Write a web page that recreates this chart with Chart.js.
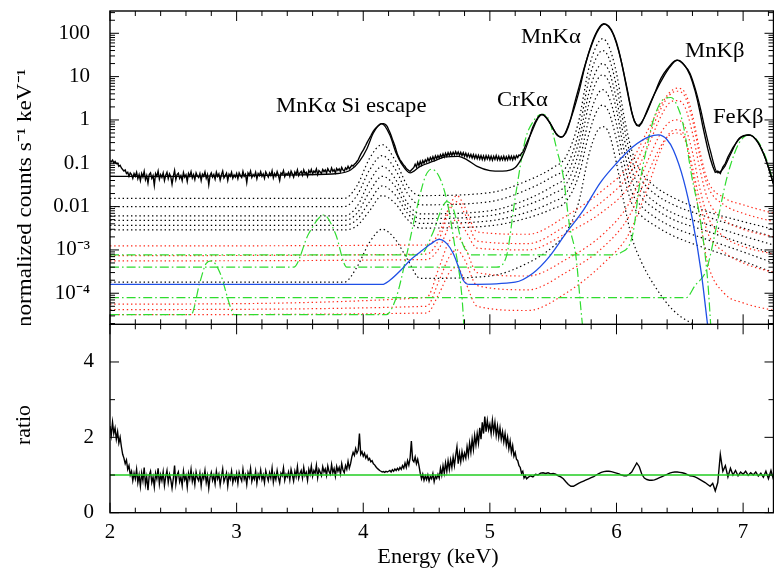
<!DOCTYPE html>
<html><head><meta charset="utf-8">
<script src="https://cdn.jsdelivr.net/npm/chart.js@4"></script>
<style>
html,body{margin:0;padding:0;background:#fff;}
#wrap{position:relative;width:774px;height:568px;overflow:hidden;}
#top{position:absolute;left:0;top:0;}
#bot{position:absolute;left:0;top:324px;}
</style></head><body>
<div id="wrap">
<canvas id="top" width="774" height="325"></canvas>
<canvas id="bot" width="774" height="244"></canvas>
</div>
<script>
// ---------------- DATA ----------------
// observed spectrum: 2.00-5.29 keV in 0.01 keV bins, then 5.30-7.24 keV in 0.02 keV bins
const fineStart = 2.00, fineStep = 0.01, coarseStart = 5.30, coarseStep = 0.02;
const countsFine = [
.115,.108,.118,.102,.11,.098,.1,.085,.09,.078,
.072,.066,.07,.058,.062,.05,.06,.055,.045,.058,
.05,.062,.044,.055,.04,.058,.048,.065,.042,.052,
.035,.055,.06,.045,.052,.031,.058,.05,.066,.043,
.055,.047,.06,.04,.053,.062,.044,.057,.049,.033,
.05,.068,.042,.055,.059,.045,.052,.04,.061,.048,
.054,.038,.058,.05,.064,.046,.055,.042,.06,.051,
.047,.058,.04,.056,.05,.063,.045,.055,.032,.052,
.06,.048,.055,.043,.062,.05,.057,.041,.054,.066,
.046,.052,.059,.04,.056,.05,.062,.045,.054,.048,
.058,.044,.06,.052,.047,.065,.05,.056,.036,.06,
.053,.066,.047,.055,.05,.062,.044,.058,.052,.064,
.05,.057,.045,.063,.055,.048,.06,.052,.067,.046,
.058,.05,.064,.053,.04,.06,.056,.068,.049,.058,
.054,.062,.05,.066,.057,.048,.063,.055,.07,.052,
.06,.065,.053,.07,.058,.062,.05,.068,.06,.072,
.057,.066,.061,.074,.055,.068,.063,.058,.072,.064,
.07,.06,.075,.066,.062,.078,.065,.071,.06,.076,
.068,.074,.064,.08,.07,.066,.078,.072,.085,.074,
.082,.09,.086,.095,.1,.11,.12,.14,.16,.18,
.2,.23,.26,.3,.34,.38,.43,.49,.55,.6,
.65,.7,.74,.78,.81,.82,.82,.8,.76,.7,
.6,.52,.44,.36,.3,.25,.2,.16,.14,.12,
.11,.1,.09,.085,.075,.072,.068,.065,.07,.075,
.08,.095,.082,.105,.088,.11,.092,.115,.1,.12,
.108,.13,.112,.135,.118,.142,.12,.148,.128,.15,
.132,.158,.138,.165,.14,.17,.145,.175,.15,.178,
.152,.18,.155,.185,.158,.182,.152,.178,.15,.175,
.145,.17,.14,.165,.138,.16,.132,.158,.13,.155,
.128,.152,.125,.15,.122,.148,.12,.15,.125,.148,
.12,.146,.118,.145,.122,.15,.12,.144,.118,.142,
.12,.145,.118,.142,.12,.148,.122,.145,.12,.146,
.125,.15,.135,.155,.15,.17,.18,.21,.25,.29];
const countsCoarse = [
.34,.45,.62,.85,1.1,1.3,1.33,1.2,1.0,.8,
.62,.5,.43,.4,.42,.5,.7,1.1,1.9,3.2,
5.2,8.5,14,22,34,50,72,98,125,150,
165,160,145,120,90,62,38,21,11,5.5,
2.8,1.5,.95,.75,.72,.85,1.15,1.6,2.2,3.0,
4.0,5.2,6.8,8.6,11,13.5,16.5,19.5,22.5,24,
23.5,21,18,14.5,11,7.5,4.8,2.8,1.5,.75,
.4,.22,.13,.085,.062,.066,.058,.082,.1,.14,
.18,.23,.28,.34,.39,.42,.44,.45,.44,.41,
.36,.3,.23,.17,.12,.08,.052,.033];
const ratioFine = [
2.3,2.05,2.4,2.1,2.25,1.95,2.15,1.85,2.0,1.75,
1.55,1.45,1.3,1.4,1.15,1.25,1.0,1.1,0.85,1.05,
0.9,1.15,0.8,1.0,0.7,1.05,0.85,1.2,0.75,0.95,
0.6,1.0,1.1,0.8,0.95,0.68,1.05,0.9,1.18,0.76,
1.0,0.85,1.08,0.72,0.96,1.12,0.8,1.02,0.88,0.65,
0.9,1.25,0.76,1.0,1.08,0.82,0.95,0.72,1.1,0.87,
0.98,0.68,1.05,0.9,1.15,0.83,1.0,0.75,1.08,0.92,
0.85,1.05,0.72,1.0,0.9,1.12,0.8,0.98,0.65,0.94,
1.07,0.86,0.99,0.77,1.1,0.9,1.02,0.74,0.96,1.16,
0.82,0.93,1.05,0.71,1.0,0.89,1.1,0.8,0.97,0.86,
1.04,0.78,1.07,0.93,0.84,1.15,0.89,1.0,0.75,1.06,
0.94,1.17,0.83,0.98,0.89,1.1,0.78,1.02,0.92,1.13,
0.88,1.0,0.8,1.11,0.97,0.85,1.06,0.92,1.18,0.81,
1.02,0.88,1.12,0.93,0.79,1.05,0.98,1.19,0.86,1.02,
0.95,1.08,0.87,1.15,1.0,0.84,1.1,0.96,1.22,0.91,
1.04,1.12,0.92,1.2,0.99,1.07,0.86,1.15,1.02,1.24,
0.97,1.12,1.04,1.26,0.93,1.15,1.07,0.98,1.22,1.08,
1.16,0.99,1.24,1.09,1.02,1.28,1.06,1.17,0.97,1.23,
1.1,1.2,1.03,1.3,1.13,1.06,1.25,1.15,1.36,1.18,
1.3,1.48,1.6,1.52,1.7,1.58,1.66,2.1,1.55,1.62,
1.5,1.58,1.45,1.52,1.4,1.44,1.35,1.38,1.3,1.27,
1.22,1.18,1.15,1.12,1.1,1.08,1.09,1.07,1.1,1.08,
1.1,1.12,1.08,1.14,1.1,1.16,1.12,1.18,1.13,1.2,
1.15,1.25,1.18,1.32,1.2,1.38,1.26,1.45,1.9,1.4,
1.35,1.48,1.3,1.42,1.25,1.05,0.9,1.02,0.86,0.98,
0.88,1.0,0.84,0.96,0.9,1.04,0.82,0.97,0.91,1.02,
0.92,1.18,1.0,1.25,1.05,1.32,1.1,1.38,1.15,1.4,
1.2,1.48,1.25,1.52,1.75,1.3,1.58,1.35,1.62,1.42,
1.58,1.45,1.75,1.52,1.85,1.6,1.95,1.68,2.05,1.8,
2.1,1.85,2.25,1.95,2.4,2.1,2.55,2.15,2.45,2.2,
2.35,2.1,2.45,2.15,2.4,2.05,2.3,2.0,2.25,1.95,
2.15,1.88,2.1,1.8,2.0,1.7,1.9,1.6,1.78,1.5,
1.6,1.42,1.38,1.25,1.2,1.05,1.1,0.92,0.98,0.9];
const ratioCoarse = [
.93,.98,.95,1.02,1.0,1.05,1.06,1.04,1.06,1.03,
1.04,1.02,.98,.95,.9,.82,.75,.7,.7,.74,
.78,.81,.84,.87,.9,.93,.96,1.0,1.04,1.07,
1.09,1.1,1.1,1.09,1.07,1.05,1.03,1.0,.98,.98,
1.02,1.08,1.2,1.32,1.22,1.02,.92,.88,.86,.86,
.87,.9,.93,.96,.99,1.02,1.05,1.07,1.08,1.08,
1.07,1.06,1.04,1.01,.98,.97,.95,.92,.88,.84,
.8,.75,.7,.78,.58,.8,1.55,1.1,1.25,.95,
1.18,1.0,1.12,.98,1.08,1.02,1.1,.99,1.06,1.0,
1.08,.97,1.05,.94,1.1,.9,1.12,.88];
const unityRatio = [1, 1];

// total model (solid black)
const modelE = [2.0,2.5,3.0,3.5,3.8,3.9,3.97,4.03,4.08,4.145,4.21,4.26,4.3,4.37,4.45,4.55,4.65,4.75,4.82,4.9,5.0,5.1,5.2,5.25,5.3,5.34,5.41,5.48,5.53,5.57,5.63,5.7,5.76,5.83,5.895,5.97,6.03,6.08,6.13,6.17,6.23,6.29,6.35,6.4,6.475,6.53,6.58,6.62,6.66,6.7,6.74,6.8,6.85,6.9,6.97,7.05,7.1,7.16,7.2,7.24];
const modelC = [0.05,0.05,0.051,0.054,0.058,0.07,0.11,0.22,0.5,0.82,0.45,0.17,0.1,0.06,0.085,0.11,0.14,0.145,0.12,0.085,0.068,0.066,0.08,0.13,0.3,0.7,1.35,0.8,0.45,0.4,0.9,4.1,22,90,165,100,28,6,1.2,0.75,1.3,3.4,9,15,24,19,12,5.5,2.0,0.6,0.2,0.06,0.08,0.16,0.38,0.45,0.35,0.17,0.08,0.033];

// MnKa components (black dotted)
const mnKaE = [2.0,3.85,3.95,4.05,4.15,4.25,4.35,4.45,5.0,5.3,5.5,5.6,5.7,5.78,5.84,5.89,5.94,6.0,6.06,6.12,6.2,6.3,6.45,6.7,7.0,7.24];
const mnKa1 = [.0155,.0155,.03,.13,.27,.12,.03,.018,.021,.04,.08,.14,.9,15,50,75,50,12,1.2,.2,.06,.03,.016,.008,.0045,.003];
const mnKa2 = [.01,.01,.018,.07,.15,.075,.02,.011,.013,.025,.05,.08,.5,8,27,40,27,6,.7,.12,.04,.02,.011,.006,.0032,.002];
const mnKa3 = [.0061,.0061,.01,.038,.085,.045,.012,.0068,.008,.015,.03,.05,.3,4,13.5,20,13.5,3,.38,.07,.025,.013,.007,.004,.0021,.0013];
const mnKa4 = [.0048,.0048,.007,.022,.05,.03,.009,.0053,.0062,.011,.02,.032,.17,2.2,7.5,11,7.5,1.7,.2,.04,.016,.009,.005,.0028,.0014,8e-4];
const mnKa5 = [.0037,.0037,.005,.013,.03,.019,.007,.0041,.0047,.0075,.013,.02,.09,1,3.4,5,3.4,.8,.1,.022,.01,.0058,.0033,.0018,9e-4,5e-4];
const mnKa6 = [.0029,.0029,.0036,.008,.018,.012,.005,.0032,.0036,.0055,.009,.013,.05,.45,1.5,2.2,1.5,.35,.05,.012,.006,.0037,.0021,.0011,5.5e-4,3e-4];
const mnKa7 = [1.8e-4,1.8e-4,4e-4,1.5e-3,3e-3,1.8e-3,6e-4,2.2e-4,2.5e-4,5e-4,1.2e-3,2.5e-3,.012,.15,.5,.7,.5,.1,.012,2e-3,5e-4,1.5e-4,4e-5,1.5e-5,1e-5,1e-5];

// MnKb components (red dotted)
const mnKbE = [2.0,4.5,4.6,4.68,4.74,4.8,4.9,5.3,5.6,5.9,6.1,6.25,6.35,6.42,6.48,6.54,6.6,6.66,6.72,6.85,7.0,7.24];
const mnKb1 = [1.24e-3,1.3e-3,2.5e-3,.01,.018,.01,2.6e-3,2.3e-3,6e-3,.025,.09,.6,2.2,4.3,5.4,4.3,1.3,.18,.04,.016,.011,.007];
const mnKb2 = [7.4e-4,8e-4,1.8e-3,.008,.013,.007,1.6e-3,1.4e-3,3.6e-3,.014,.055,.4,1.8,3.8,4.6,3.5,1,.14,.03,.011,.007,.0045];
const mnKb3 = [5.6e-4,6e-4,1.1e-3,3.5e-3,5e-3,3e-3,1.1e-3,1e-3,2.4e-3,8e-3,.03,.25,1.2,2.5,2.8,2,.5,.07,.015,5e-3,3e-3,2e-3];
const mnKb4 = [5.6e-5,8e-5,4e-4,1.6e-3,2e-3,1.2e-3,3e-4,2.5e-4,6e-4,2.4e-3,.012,.12,.5,.9,1.0,.7,.18,.025,6e-3,2e-3,1.2e-3,8e-4];
const mnKb5 = [4.2e-5,5e-5,2e-4,7e-4,1e-3,6e-4,1.5e-4,1.2e-4,3e-4,1.2e-3,6e-3,.06,.25,.45,.5,.35,.08,.012,2.5e-3,9e-4,5e-4,3e-4];
const mnKb6 = [3.2e-5,3.5e-5,1e-4,3e-4,4e-4,2e-4,5e-5,4e-5,1e-4,5e-4,2.4e-3,.03,.2,.5,.6,.4,.06,5e-3,5e-4,1e-4,6e-5,4e-5];

// other lines (green dash-dot): [energy, value]
const lineTi = [[2,3.2e-5],[2.64,3.2e-5],[2.71,1.8e-4],[2.76,4.9e-4],[2.8,5.6e-4],[2.87,2.9e-4],[2.95,4.9e-5],[2.98,3.2e-5],[4.18,3.2e-5],[4.26,7.9e-5],[4.34,7e-4],[4.42,8.3e-3],[4.49,.049],[4.54,.073],[4.6,.049],[4.66,.014],[4.72,1.4e-3],[4.78,7.9e-5],[4.8,1e-5]];
const lineCr = [[2,4e-4],[3.45,4e-4],[3.57,2.4e-3],[3.69,6.4e-3],[3.78,2.4e-3],[3.87,4e-4],[5.05,4e-4],[5.13,7e-4],[5.2,.016],[5.28,.35],[5.34,.9],[5.41,1.35],[5.47,.95],[5.53,.2],[5.58,.049],[5.63,3.5e-3],[5.68,7e-4],[5.72,4e-5],[5.74,1e-5]];
const lineKb = [[2,7.7e-4],[4.45,7.7e-4],[4.55,2.5e-3],[4.62,9e-3],[4.66,.013],[4.71,9e-3],[4.78,1.5e-3],[4.85,7.7e-4],[5.97,7.7e-4],[6.03,8.5e-4],[6.13,2.4e-3],[6.18,.029],[6.24,.24],[6.3,1.2],[6.37,3],[6.43,3.3],[6.5,1.5],[6.53,.7],[6.59,.059],[6.67,3.5e-3],[6.72,2e-4],[6.75,1e-5]];
const lineFe = [[2,7.9e-5],[6.55,7.9e-5],[6.62,1.5e-4],[6.71,3.5e-4],[6.79,3.5e-3],[6.85,.025],[6.9,.09],[6.97,.3],[7.05,.45],[7.13,.28],[7.2,.09],[7.24,.035]];

// broad component (blue solid)
const broadE = [2.0,4.15,4.21,4.3,4.37,4.45,4.53,4.6,4.66,4.71,4.76,4.79,4.84,5.2,5.34,5.47,5.6,5.74,5.87,6.0,6.13,6.26,6.33,6.4,6.45,6.53,6.6,6.67,6.72];
const broadC = [1.6e-4,1.6e-4,2e-4,3.5e-4,5.8e-4,9e-4,1.35e-3,1.75e-3,1.4e-3,8.4e-4,3.5e-4,2e-4,1.6e-4,1.8e-4,2.9e-4,7e-4,2.4e-3,8.4e-3,.035,.1,.24,.41,.45,.35,.2,.041,5e-3,2.9e-4,1.8e-5];

// axes
const xTickValues = [2,3,4,5,6,7];
const xTickLabels = ['2','3','4','5','6','7'];
const yTickValues = [1e-4,1e-3,0.01,0.1,1,10,100];
const yTickLabels = ['10\u207B\u2074','10\u207B\u00B3','0.01','0.1','1','10','100'];
const rTickValues = [0,2,4];
const rTickLabels = ['0','2','4'];
const peakLabels = ['MnK\u03B1 Si escape','CrK\u03B1','MnK\u03B1','MnK\u03B2','FeK\u03B2'];
const yTitleTop = 'normalized counts s\u207B\u00B9 keV\u207B\u00B9';
const yTitleBot = 'ratio';
const xTitle = 'Energy (keV)';

// ---------------- BUILD ----------------
const FONT = "'Liberation Serif','Times New Roman',serif";
Chart.defaults.font.family = FONT;
Chart.defaults.color = '#000';

const dataE = countsFine.map((_, i) => +(fineStart + fineStep * i).toFixed(2))
  .concat(countsCoarse.map((_, j) => +(coarseStart + coarseStep * j).toFixed(2)));
const counts = countsFine.concat(countsCoarse);
const ratio = ratioFine.concat(ratioCoarse);
const xy = (E, V) => E.map((e, i) => ({x: e, y: V[i]}));
const pr = P => P.map(p => ({x: p[0], y: p[1]}));

const XMIN = 2, XMAX = 7.24;
const xMinorTicks = Array.from({length: 27}, (_, i) => +(2 + 0.2 * i).toFixed(1));

function line(data, color, width, dash, smooth) {
  return {data, borderColor: color, borderWidth: width, borderDash: dash || [],
    pointRadius: 0, fill: false, tension: smooth ? 0.4 : 0,
    cubicInterpolationMode: smooth ? 'monotone' : 'default'};
}
const DOT = [1.4, 2.8], DASHDOT = [9, 3, 1.6, 3];
const BLACK = '#000', RED = '#ff2a1a', GREEN = '#2fdc2f', BLUE = '#1f4fe6';

function frame(yMajor, yMinor) {
  return {
    id: 'frame',
    afterDatasetsDraw(chart) {
      const {ctx, chartArea: a, scales: {x, y}} = chart;
      ctx.save();
      ctx.strokeStyle = '#000';
      ctx.lineWidth = 1;
      ctx.beginPath();
      for (const v of xMinorTicks) {
        const px = x.getPixelForValue(v);
        const L = Number.isInteger(v) ? 10 : 5;
        ctx.moveTo(px, a.top); ctx.lineTo(px, a.top + L);
        ctx.moveTo(px, a.bottom); ctx.lineTo(px, a.bottom - L);
      }
      for (const [vals, L] of [[yMajor, 9], [yMinor, 5]]) {
        for (const v of vals) {
          const py = y.getPixelForValue(v);
          if (py < a.top - 0.5 || py > a.bottom + 0.5) continue;
          ctx.moveTo(a.left, py); ctx.lineTo(a.left + L, py);
          ctx.moveTo(a.right, py); ctx.lineTo(a.right - L, py);
        }
      }
      ctx.stroke();
      ctx.lineWidth = 1.4;
      ctx.strokeRect(a.left, a.top, a.right - a.left, a.bottom - a.top);
      ctx.restore();
    }
  };
}

function texts(items) {
  return {
    id: 'texts',
    afterDraw(chart) {
      const ctx = chart.ctx;
      ctx.save();
      ctx.fillStyle = '#000';
      ctx.textBaseline = 'alphabetic';
      for (const t of items) {
        ctx.font = (t.size || 21) + 'px ' + FONT;
        ctx.save();
        ctx.translate(t.x, t.y);
        if (t.rot) ctx.rotate(-Math.PI / 2);
        ctx.scale(t.stretch || 1.08, 1);
        ctx.textAlign = t.align || 'left';
        ctx.fillText(t.text, 0, 0);
        ctx.restore();
      }
      ctx.restore();
    }
  };
}

const yMinorTop = [];
for (let k = -5; k <= 2; k++) for (let m = 2; m <= 9; m++) yMinorTop.push(m * Math.pow(10, k));

new Chart(document.getElementById('top'), {
  type: 'line',
  data: {datasets: [
    line(xy(dataE, counts), BLACK, 1.4, [], false),
    line(xy(modelE, modelC), BLACK, 1.3, [], true),
    line(xy(broadE, broadC), BLUE, 1.3, [], true),
    line(pr(lineTi), GREEN, 1.2, DASHDOT, true),
    line(pr(lineCr), GREEN, 1.2, DASHDOT, true),
    line(pr(lineKb), GREEN, 1.2, DASHDOT, true),
    line(pr(lineFe), GREEN, 1.2, DASHDOT, true),
    line(xy(mnKbE, mnKb1), RED, 1.2, DOT, true),
    line(xy(mnKbE, mnKb2), RED, 1.2, DOT, true),
    line(xy(mnKbE, mnKb3), RED, 1.2, DOT, true),
    line(xy(mnKbE, mnKb4), RED, 1.2, DOT, true),
    line(xy(mnKbE, mnKb5), RED, 1.2, DOT, true),
    line(xy(mnKbE, mnKb6), RED, 1.2, DOT, true),
    line(xy(mnKaE, mnKa1), BLACK, 1.2, DOT, true),
    line(xy(mnKaE, mnKa2), BLACK, 1.2, DOT, true),
    line(xy(mnKaE, mnKa3), BLACK, 1.2, DOT, true),
    line(xy(mnKaE, mnKa4), BLACK, 1.2, DOT, true),
    line(xy(mnKaE, mnKa5), BLACK, 1.2, DOT, true),
    line(xy(mnKaE, mnKa6), BLACK, 1.2, DOT, true),
    line(xy(mnKaE, mnKa7), BLACK, 1.2, DOT, true)
  ]},
  options: {
    responsive: false, animation: false, devicePixelRatio: 1,
    layout: {padding: {top: 11, right: 0.5, bottom: 0.7, left: 0}},
    plugins: {legend: {display: false}, tooltip: {enabled: false}},
    scales: {
      x: {type: 'linear', min: XMIN, max: XMAX, display: false},
      y: {type: 'logarithmic', min: 1.92e-5, max: 327,
        grid: {display: false, drawTicks: false}, border: {display: false},
        ticks: {font: {size: 21, family: FONT}, color: '#000', padding: 20, autoSkip: false,
          callback: (v, i) => yTickLabels[i]},
        afterBuildTicks: s => { s.ticks = yTickValues.map(v => ({value: v})); },
        afterFit: s => { s.width = 110; s.paddingTop = 0; s.paddingBottom = 0; }
      }
    }
  },
  plugins: [frame(yTickValues, yMinorTop), texts([
    {text: peakLabels[0], x: 276, y: 112},
    {text: peakLabels[1], x: 497, y: 106},
    {text: peakLabels[2], x: 521, y: 43},
    {text: peakLabels[3], x: 685, y: 57},
    {text: peakLabels[4], x: 713, y: 123},
    {text: yTitleTop, x: 31, y: 198, rot: true, align: 'center', stretch: 1.1}
  ])]
});

new Chart(document.getElementById('bot'), {
  type: 'line',
  data: {datasets: [
    line([{x: XMIN, y: unityRatio[0]}, {x: XMAX, y: unityRatio[1]}], '#22cc22', 1.5, [], false),
    line(xy(dataE, ratio), BLACK, 1.4, [], false)
  ]},
  options: {
    responsive: false, animation: false, devicePixelRatio: 1,
    layout: {padding: {top: 0.3, right: 0.5, bottom: 0, left: 0}},
    plugins: {legend: {display: false}, tooltip: {enabled: false}},
    scales: {
      x: {type: 'linear', min: XMIN, max: XMAX,
        grid: {display: false, drawTicks: false}, border: {display: false},
        ticks: {font: {size: 21, family: FONT}, color: '#000', padding: 7, autoSkip: false, maxRotation: 0,
          callback: (v, i) => xTickLabels[i]},
        afterBuildTicks: s => { s.ticks = xTickValues.map(v => ({value: v})); },
        afterFit: s => { s.height = 55.3; s.paddingLeft = 0; s.paddingRight = 0; }
      },
      y: {type: 'linear', min: 0, max: 5,
        grid: {display: false, drawTicks: false}, border: {display: false},
        ticks: {font: {size: 21, family: FONT}, color: '#000', padding: 16, autoSkip: false,
          callback: (v, i) => rTickLabels[i]},
        afterBuildTicks: s => { s.ticks = rTickValues.map(v => ({value: v})); },
        afterFit: s => { s.width = 110; s.paddingTop = 0; s.paddingBottom = 0; }
      }
    }
  },
  plugins: [frame(rTickValues, [1, 3, 5]), texts([
    {text: yTitleBot, x: 30, y: 101, rot: true, align: 'center', stretch: 1.04},
    {text: xTitle, x: 438, y: 239, align: 'center', stretch: 1.06}
  ])]
});
</script>
</body></html>
